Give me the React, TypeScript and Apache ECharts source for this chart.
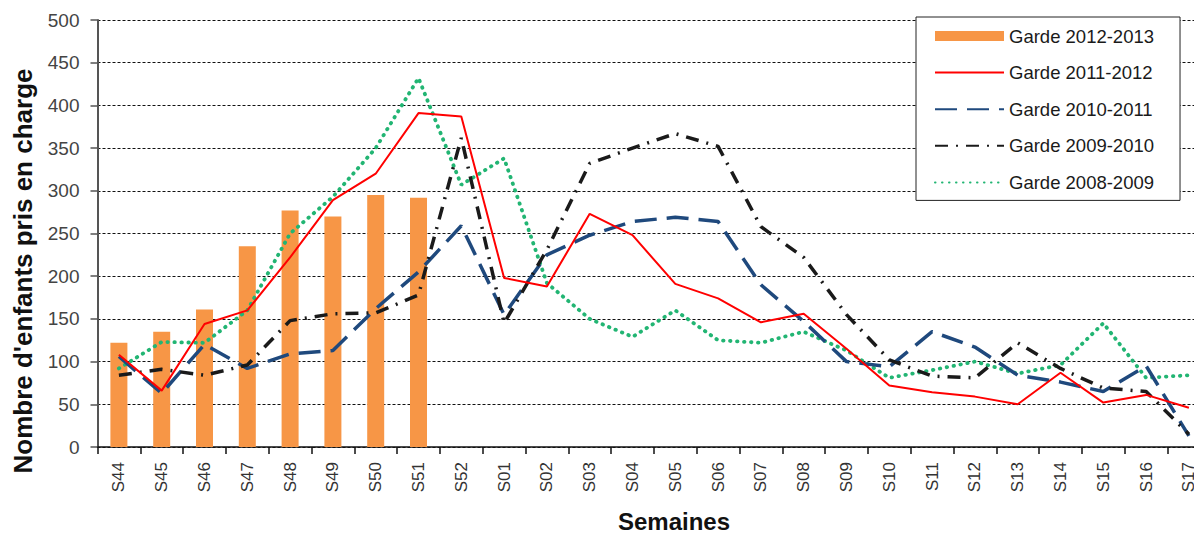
import React, { useEffect, useRef } from "react";
import * as echarts from "echarts";

const weeks = [
  "S44", "S45", "S46", "S47", "S48", "S49", "S50", "S51", "S52",
  "S01", "S02", "S03", "S04", "S05", "S06", "S07", "S08", "S09",
  "S10", "S11", "S12", "S13", "S14", "S15", "S16", "S17",
];

const garde2012_2013 = [
  122, 135, 161, 235, 277, 270, 295, 292, null,
  null, null, null, null, null, null, null, null, null,
  null, null, null, null, null, null, null, null,
];

const garde2011_2012 = [
  108, 66, 144, 160, 222, 289, 320, 391, 387,
  198, 188, 273, 248, 191, 174, 146, 156, 115,
  72, 64, 59, 50, 87, 52, 61, 46,
];

const garde2010_2011 = [
  106, 63, 120, 92, 109, 113, 162, 205, 259,
  155, 225, 248, 264, 269, 264, 190, 147, 100,
  94, 135, 117, 84, 76, 65, 95, 13,
];

const garde2009_2010 = [
  84, 91, 84, 96, 148, 156, 157, 178, 362,
  145, 231, 332, 350, 367, 352, 258, 222, 155,
  102, 83, 81, 122, 92, 69, 65, 15,
];

const garde2008_2009 = [
  92, 123, 122, 160, 250, 293, 350, 432, 307,
  338, 192, 150, 129, 160, 125, 122, 135, 113,
  81, 90, 100, 86, 96, 145, 81, 84,
];

const seriesNames = [
  "Garde 2012-2013",
  "Garde 2011-2012",
  "Garde 2010-2011",
  "Garde 2009-2010",
  "Garde 2008-2009",
];

const yTitle = "Nombre d'enfants pris en charge";
const xTitle = "Semaines";

const FONT = "'Liberation Sans', Arial, sans-serif";

const hiddenSymbol = {
  color: "rgba(0,0,0,0)",
  borderColor: "rgba(0,0,0,0)",
  borderWidth: 0,
  opacity: 0,
};

export default function App() {
  const ref = useRef<HTMLDivElement>(null);

  useEffect(() => {
    if (!ref.current) return;
    const chart = echarts.init(ref.current, null, { renderer: "svg" });
    chart.setOption({
      animation: false,
      backgroundColor: "#ffffff",
      grid: {
        left: 97.5,
        top: 20,
        width: 1112.8,
        height: 427,
        outerBoundsMode: "none",
        containLabel: false,
      },
      legend: {
        orient: "vertical",
        left: 916,
        top: 17,
        padding: [9, 26, 8, 18],
        itemWidth: 69,
        itemHeight: 10,
        itemGap: 16.6,
        backgroundColor: "#ffffff",
        borderColor: "#222222",
        borderWidth: 1,
        borderRadius: 0,
        textStyle: {
          fontFamily: FONT,
          fontSize: 18.5,
          lineHeight: 20,
          color: "#1a1a1a",
        },
        data: [
          { name: seriesNames[0], icon: "rect" },
          { name: seriesNames[1], itemStyle: hiddenSymbol },
          { name: seriesNames[2], itemStyle: hiddenSymbol },
          { name: seriesNames[3], itemStyle: hiddenSymbol },
          { name: seriesNames[4], itemStyle: hiddenSymbol },
        ],
      },
      xAxis: {
        type: "category",
        data: weeks,
        boundaryGap: true,
        axisLine: { lineStyle: { color: "#111111", width: 1.5 } },
        axisTick: {
          show: true,
          inside: false,
          length: 7,
          alignWithLabel: false,
          lineStyle: { color: "#111111", width: 1.5 },
        },
        axisLabel: {
          rotate: 90,
          margin: 15,
          fontFamily: FONT,
          fontSize: 17,
          color: "#333333",
          interval: 0,
        },
        splitLine: { show: false },
      },
      yAxis: {
        type: "value",
        min: 0,
        max: 500,
        interval: 50,
        axisLine: { show: true, lineStyle: { color: "#555555", width: 2 } },
        axisTick: {
          show: true,
          inside: false,
          length: 7,
          lineStyle: { color: "#555555", width: 1.5 },
        },
        axisLabel: {
          margin: 18,
          fontFamily: FONT,
          fontSize: 19,
          color: "#444444",
        },
        splitLine: {
          show: true,
          lineStyle: { color: "#111111", width: 1, type: [3, 2] },
        },
      },
      series: [
        {
          name: seriesNames[0],
          type: "bar",
          data: garde2012_2013,
          barWidth: 17,
          itemStyle: { color: "#F79646" },
          z: 1,
        },
        {
          name: seriesNames[1],
          type: "line",
          data: garde2011_2012,
          symbol: "none",
          color: "#FF0000",
          lineStyle: { color: "#FF0000", width: 2 },
          z: 5,
        },
        {
          name: seriesNames[2],
          type: "line",
          data: garde2010_2011,
          symbol: "none",
          color: "#1F497D",
          lineStyle: { color: "#1F497D", width: 3.5, type: [22, 10] },
          z: 3,
        },
        {
          name: seriesNames[3],
          type: "line",
          data: garde2009_2010,
          symbol: "none",
          color: "#1a1a1a",
          lineStyle: { color: "#1a1a1a", width: 3.5, type: [13, 8, 2, 8] },
          z: 4,
        },
        {
          name: seriesNames[4],
          type: "line",
          data: garde2008_2009,
          symbol: "none",
          color: "#22B573",
          lineStyle: { color: "#22B573", width: 3.8, type: [0.5, 6.5], cap: "round" },
          z: 2,
        },
      ],
      graphic: [
        {
          type: "text",
          x: 23,
          y: 271,
          rotation: Math.PI / 2,
          style: {
            text: yTitle,
            fontFamily: FONT,
            fontSize: 26,
            fontWeight: "bold",
            fill: "#111111",
            align: "center",
            verticalAlign: "middle",
          },
        },
        {
          type: "text",
          x: 674,
          y: 521,
          style: {
            text: xTitle,
            fontFamily: FONT,
            fontSize: 24,
            lineHeight: 20,
            fontWeight: "bold",
            fill: "#111111",
            align: "center",
            verticalAlign: "middle",
          },
        },
      ],
    });
    return () => chart.dispose();
  }, []);

  return (
    <div
      ref={ref}
      style={{ position: "fixed", left: 0, top: 0, width: 1194, height: 535 }}
    />
  );
}
